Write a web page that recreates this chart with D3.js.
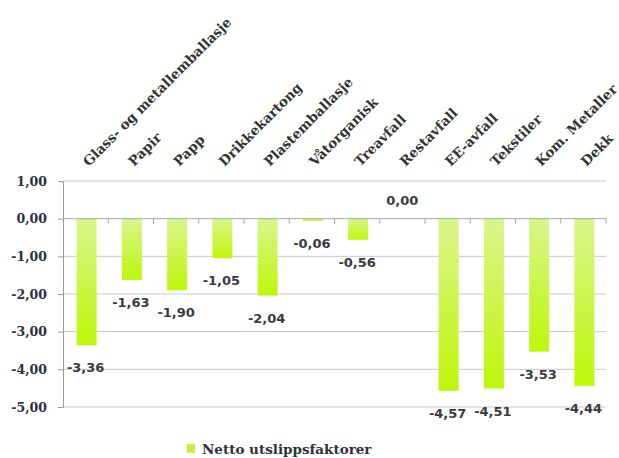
<!DOCTYPE html>
<html>
<head>
<meta charset="utf-8">
<script src="https://cdn.jsdelivr.net/npm/d3@7"></script>
<style>
  body { margin: 0; background: #fff; }
</style>
</head>
<body>
<svg id="chart"></svg>
<script>
// Data
const categories = ["Glass- og metallemballasje", "Papir", "Papp", "Drikkekartong", "Plastemballasje",
  "Våtorganisk", "Treavfall", "Restavfall", "EE-avfall", "Tekstiler", "Kom. Metaller", "Dekk"];
const values = [-3.36, -1.63, -1.90, -1.05, -2.04, -0.06, -0.56, 0.00, -4.57, -4.51, -3.53, -4.44];
const yTicks = [1, 0, -1, -2, -3, -4, -5];
const seriesName = "Netto utslippsfaktorer";

const width = 619;
const height = 458;
const margin = { top: 181, right: 13, bottom: 51, left: 63 };

const svg = d3.select("#chart")
    .attr("width", width)
    .attr("height", height);

const x = d3.scaleBand()
    .domain(categories)
    .range([margin.left, width - margin.right]);

const y = d3.scaleLinear()
    .domain([-5, 1])
    .range([height - margin.bottom, margin.top]);

const fmt = v => d3.format(".2f")(v).replace(".", ",").replace("−", "-");

// gradient for bars
const defs = svg.append("defs");
const grad = defs.append("linearGradient")
    .attr("id", "barGrad")
    .attr("x1", 0).attr("y1", 0).attr("x2", 0).attr("y2", 1);
grad.append("stop").attr("offset", "0%").attr("stop-color", "#d9f58c");
grad.append("stop").attr("offset", "100%").attr("stop-color", "#bdf70a");

// gridlines
svg.append("g")
    .selectAll("line")
    .data(yTicks.filter(d => d !== 0))
    .join("line")
    .attr("x1", margin.left)
    .attr("x2", width - margin.right)
    .attr("y1", d => y(d))
    .attr("y2", d => y(d))
    .attr("stroke", "#c8c8c8")
    .attr("stroke-width", 1);

// y axis
const yAxis = svg.append("g")
    .attr("transform", `translate(${margin.left},0)`)
    .call(d3.axisLeft(y).tickValues(yTicks).tickFormat(fmt).tickSize(5).tickPadding(11));
yAxis.select(".domain").attr("stroke", "#9a9a9a");
yAxis.selectAll(".tick line").attr("stroke", "#9a9a9a");
yAxis.selectAll(".tick text")
    .attr("fill", "#2e3040")
    .style("font-family", "'DejaVu Serif', serif")
    .style("font-weight", "bold")
    .style("font-size", "12.5px");

// bars
const barW = 20;
svg.append("g")
    .selectAll("rect")
    .data(values)
    .join("rect")
    .attr("x", (d, i) => x(categories[i]) + x.bandwidth() / 2 - barW / 2 + 1)
    .attr("y", d => y(Math.max(0, d)))
    .attr("width", barW)
    .attr("height", d => Math.abs(y(d) - y(0)))
    .attr("fill", "url(#barGrad)");

// zero line with category ticks
const zero = svg.append("g");
zero.append("line")
    .attr("x1", margin.left)
    .attr("x2", width - margin.right)
    .attr("y1", y(0))
    .attr("y2", y(0))
    .attr("stroke", "#a8a8a8");
zero.selectAll("line.tk")
    .data(categories)
    .join("line")
    .attr("class", "tk")
    .attr("x1", d => x(d) + x.bandwidth())
    .attr("x2", d => x(d) + x.bandwidth())
    .attr("y1", y(0))
    .attr("y2", y(0) + 5)
    .attr("stroke", "#a8a8a8");

// data labels
svg.append("g")
    .selectAll("text")
    .data(values)
    .join("text")
    .attr("x", (d, i) => x(categories[i]) + x.bandwidth() / 2)
    .attr("y", d => d < 0 ? y(d) + 27 : y(0) - 14)
    .attr("text-anchor", "middle")
    .attr("fill", "#3a3a44")
    .style("font-family", "'DejaVu Sans', sans-serif")
    .style("font-weight", "bold")
    .style("font-size", "13px")
    .text(fmt);

// category labels
svg.append("g")
    .selectAll("text")
    .data(categories)
    .join("text")
    .attr("transform", d => `translate(${x(d) + x.bandwidth() / 2 + 3},${margin.top - 14}) rotate(-45)`)
    .attr("fill", "#333")
    .style("font-family", "'DejaVu Serif', serif")
    .style("font-weight", "bold")
    .style("font-size", "13.5px")
    .text(d => d);

// legend
const legend = svg.append("g").attr("transform", "translate(187,444)");
legend.append("rect")
    .attr("width", 8)
    .attr("height", 9)
    .attr("fill", "#c6f23a");
legend.append("text")
    .attr("x", 15)
    .attr("y", 10)
    .attr("fill", "#2e3040")
    .style("font-family", "'DejaVu Serif', serif")
    .style("font-weight", "bold")
    .style("font-size", "13.5px")
    .text(seriesName);
</script>
</body>
</html>
